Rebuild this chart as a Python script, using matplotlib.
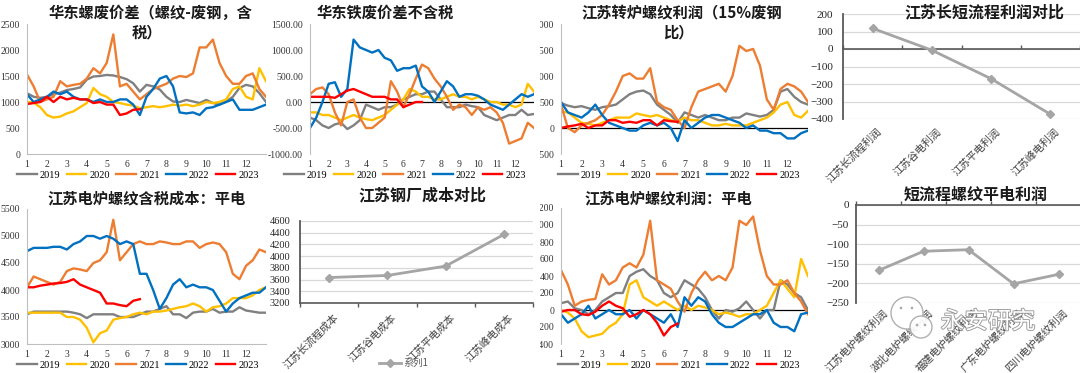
import numpy as np
import matplotlib
matplotlib.use('Agg')
import matplotlib.pyplot as plt
from matplotlib.transforms import Bbox, TransformedBbox, blended_transform_factory, offset_copy
from matplotlib.patches import Circle
import matplotlib.patheffects as pe

# ---------------- data ----------------
years = ['2019', '2020', '2021', '2022', '2023']
months = [1, 2, 3, 4, 5, 6, 7, 8, 9, 10, 11, 12]
# date grid: every 1/3 month from Jan 1 to year end
x_grid = np.linspace(1, 13, 37)

# 华东螺废价差（螺纹-废钢，含税）
p1_2019 = [1170,1100,1080,1100,1150,1180,1230,1250,1280,1430,1490,1500,1520,1510,1480,1440,1360,1200,1330,1300,1240,1100,1010,1000,1040,1010,980,1040,980,950,1010,1100,1270,1330,1300,1170,1000]
p1_2020 = [1000,990,900,750,700,720,780,820,900,980,1270,1150,1100,1000,980,950,930,880,900,920,900,920,950,930,950,920,950,1000,980,1000,1050,1250,1300,1100,1050,1650,1400]
p1_2021 = [1530,1300,1000,1050,1100,1400,1300,1330,1350,1450,1650,1550,1750,2300,1300,1350,1200,1050,1150,1250,1300,1350,1450,1500,1480,1550,2050,2050,2200,1750,1500,1350,1350,1500,1550,1250,1100]
p1_2022 = [1150,1000,1050,1100,1200,1150,1200,1100,1050,1050,1000,1050,1000,1000,1050,1050,950,750,1100,1250,1450,1500,1300,800,780,800,750,880,900,950,1000,1050,850,850,850,900,950]
p1_2023 = [960,980,1000,1100,1000,1100,1050,1080,1050,1050,980,1000,950,950,750,780,850,860]

# 华东铁废价差不含税
p2_2019 = [-300,-350,-450,-500,-430,-400,-520,-450,-350,-50,-100,-150,-100,-100,-50,50,100,150,150,200,200,50,-100,-100,-100,-50,-80,-100,-250,-300,-350,-300,-250,-250,-150,-250,-230]
p2_2020 = [-200,-200,-250,-250,-300,-350,-300,-250,-300,-330,-350,-300,-250,-150,-50,50,250,200,100,100,50,50,100,150,100,100,50,100,50,0,0,-50,-50,-100,-50,350,200]
p2_2021 = [150,250,280,150,-200,-450,0,50,-300,-500,-500,-400,-300,400,200,-100,150,450,720,650,450,300,100,-150,-50,-100,-250,-100,-150,-100,-200,-400,-800,-750,-700,-400,-500]
p2_2022 = [-500,-300,0,350,380,100,250,1200,1050,1000,950,1000,850,800,600,650,650,700,300,200,0,200,400,300,100,150,150,120,50,-50,-100,-150,-50,50,150,100,150]
p2_2023 = [100,100,100,100,80,150,220,250,200,150,100,100,100,50,50,-100,-50,0,0]

# 江苏转炉螺纹利润（15%废钢比）
p3_2019 = [480,430,400,420,380,350,400,420,450,550,650,700,720,650,450,350,250,100,300,250,200,250,200,150,150,200,200,280,250,220,250,350,700,750,600,500,450]
p3_2020 = [320,300,200,100,80,50,100,150,200,200,200,280,250,220,250,200,150,120,200,150,150,100,50,50,80,50,50,50,100,150,200,300,450,500,250,200,330]
p3_2021 = [450,0,-80,50,100,150,250,450,700,1000,1050,950,950,1150,500,400,350,150,0,400,700,750,800,850,700,1000,1580,1480,1520,1200,550,350,750,850,800,700,500]
p3_2022 = [500,300,250,200,300,450,250,100,50,0,-50,-50,50,100,50,100,0,-250,150,0,100,200,250,250,200,150,100,0,50,-50,-50,-100,-100,-200,-200,-100,-50]
p3_2023 = [0,30,50,80,0,50,50,150,150,100,120,100,150,150,50,150,130,120]

# 江苏电炉螺纹含税成本：平电
p5_2019 = [3550,3600,3600,3600,3600,3600,3600,3580,3550,3480,3550,3550,3550,3550,3500,3500,3500,3550,3600,3600,3650,3700,3550,3550,3480,3580,3600,3600,3650,3580,3600,3600,3680,3620,3600,3580,3580]
p5_2020 = [3580,3580,3580,3580,3580,3580,3500,3500,3450,3300,3030,3200,3250,3450,3480,3500,3550,3580,3550,3600,3600,3620,3650,3680,3700,3750,3700,3600,3680,3700,3750,3850,3850,3850,3900,4000,4050]
p5_2021 = [4050,4250,4200,4150,4100,4150,4350,4400,4380,4350,4500,4550,4700,5300,4550,4700,4850,4900,4850,4850,4900,4880,4850,4850,4900,4900,4780,4850,4880,4850,4700,4300,4200,4450,4550,4750,4700]
p5_2022 = [4720,4780,4780,4780,4800,4800,4750,4850,4900,5000,5000,4950,5000,4950,4850,4900,4850,4300,4300,4000,3650,3850,4100,4200,4050,4100,4050,4050,4000,3800,3600,3750,3850,3900,3950,3950,4050]
p5_2023 = [4050,4050,4080,4100,4120,4130,4150,4200,4100,4050,4000,3950,3750,3750,3720,3700,3800,3830]

# 江苏电炉螺纹利润：平电
p7_2019 = [80,100,20,0,-50,0,100,150,200,200,400,450,480,400,350,200,150,200,350,300,250,150,0,-100,0,-20,20,100,0,-100,0,0,350,300,200,150,0]
p7_2020 = [0,-30,-100,-250,-320,-300,-280,-200,-150,-50,300,350,150,100,50,100,50,0,50,0,50,30,0,-50,-30,-50,-80,-50,-50,0,50,200,350,250,150,600,400]
p7_2021 = [470,300,50,100,120,130,420,300,350,500,550,500,650,1050,350,300,250,100,-20,200,350,450,350,400,350,500,1050,1000,1100,700,400,300,300,350,200,100,-50]
p7_2022 = [-50,-150,-100,-50,50,-100,-50,0,-50,-50,0,-100,0,-50,-100,-150,-50,-200,150,50,150,100,-50,-150,-200,-200,-150,-100,-50,-50,0,-150,-200,-200,-250,-50,-30]
p7_2023 = [-20,0,0,-50,-60,-20,50,100,50,20,-80,-50,0,-50,-150,-300,-200,-160]

# 江苏长短流程利润对比
p4_cats = ['江苏长流程利润', '江苏谷电利润', '江苏平电利润', '江苏峰电利润']
p4_vals = [118, -7, -170, -373]

# 江苏钢厂成本对比
p6_cats = ['江苏长流程成本', '江苏谷电成本', '江苏平电成本', '江苏峰电成本']
p6_vals = [3635, 3670, 3830, 4370]

# 短流程螺纹平电利润
p8_cats = ['江苏电炉螺纹利润', '湖北电炉螺纹利润', '福建电炉螺纹利润', '广东电炉螺纹利润', '四川电炉螺纹利润']
p8_vals = [-167, -118, -114, -201, -177]

# ---------------- style ----------------
colors = ['#808080', '#ffc000', '#ed7d31', '#0070c0', '#ff0000']
plt.rcParams['font.family'] = ['Liberation Serif', 'Noto Sans CJK SC']
CJK = ['Noto Sans CJK SC']
W, H = 1080, 373
fig = plt.figure(figsize=(W / 100, H / 100), dpi=100)


def add_ax(x0, y0, x1, y1):
    return fig.add_axes([x0 / W, 1 - y1 / H, (x1 - x0) / W, (y1 - y0) / H])


def title(cx, cy, s, fs=11):
    fig.text(cx / W, 1 - cy / H, s, ha='center', va='center', fontsize=fs,
             fontweight='bold', family=CJK, color='#1a1a1a')


def clip_left(ax, xpix):
    cb = TransformedBbox(Bbox.from_extents(xpix / W, 0, 1, 1), fig.transFigure)
    for t in ax.get_yticklabels():
        t.set_clip_on(True)
        t.set_clip_box(cb)


def ts_panel(box, series, ylim, ystep, fmt, zero_line, legend_xy):
    ax = add_ax(*box)
    ax.patch.set_visible(False)
    handles = []
    for vals, c, lab in zip(series, colors, years):
        h, = ax.plot(x_grid[:len(vals)], vals, color=c, lw=1.7, label=lab,
                     solid_joinstyle='round')
        handles.append(h)
    ax.set_xlim(1, 13)
    ax.set_ylim(*ylim)
    yt = np.arange(ylim[0], ylim[1] + ystep / 2, ystep)
    ax.set_yticks(yt)
    ax.set_yticklabels([fmt.format(v) for v in yt])
    ax.set_xticks(months)
    ax.set_xticklabels([str(m) for m in months])
    ax.tick_params(axis='y', length=0, labelsize=7, pad=5, labelcolor='#333333')
    ax.tick_params(axis='x', length=0, labelsize=7, pad=4, labelcolor='#333333')
    for s in ['top', 'right']:
        ax.spines[s].set_visible(False)
    ax.spines['left'].set_color('#bfbfbf')
    if zero_line:
        ax.spines['bottom'].set_visible(False)
        ax.axhline(0, color='black', lw=0.9, zorder=1)
    else:
        ax.spines['bottom'].set_color('#bfbfbf')
    fig.legend(handles, years, loc='center',
               bbox_to_anchor=(legend_xy[0] / W, 1 - legend_xy[1] / H),
               ncol=5, frameon=False, fontsize=7.5, handlelength=1.9,
               handletextpad=0.3, columnspacing=0.6, borderaxespad=0,
               borderpad=0)
    return ax


def cat_panel(box, cats, vals, ylim, ystep, axis_y, tick_dir, gap, ypad, yfs, lfs):
    ax = add_ax(*box)
    ax.patch.set_visible(False)
    x = np.arange(len(cats))
    line, = ax.plot(x, vals, color='#a5a5a5', lw=2, marker='D', ms=4,
                    label='系列1', zorder=3)
    ax.set_xlim(-0.5, len(cats) - 0.5)
    ax.set_ylim(*ylim)
    ax.set_yticks(np.arange(ylim[0], ylim[1] + ystep / 2, ystep))
    ax.yaxis.grid(True, color='#d9d9d9', lw=0.9)
    ax.set_axisbelow(True)
    for s in ['top', 'right']:
        ax.spines[s].set_visible(False)
    ax.spines['left'].set_color('#595959')
    ax.spines['left'].set_linewidth(1.3)
    ax.spines['bottom'].set_position(('data', axis_y))
    ax.spines['bottom'].set_color('#595959')
    ax.spines['bottom'].set_linewidth(1.2)
    ax.set_xticks(np.arange(len(cats) + 1) - 0.5)
    ax.tick_params(axis='x', length=3, width=1, direction=tick_dir,
                   labelbottom=False, color='#595959')
    ax.tick_params(axis='y', length=0, labelsize=yfs, pad=ypad, labelcolor='#262626')
    trans = blended_transform_factory(ax.transData, ax.transAxes)
    tr = offset_copy(trans, fig=fig, x=4, y=-gap, units='dots')
    for i, c in enumerate(cats):
        ax.text(i, 0, c, transform=tr, rotation=45, ha='right', va='top',
                rotation_mode='anchor', fontsize=lfs, family=CJK, color='#404040')
    return ax, line


# ---------------- time series panels ----------------
ax1 = ts_panel((27, 24, 266, 154), [p1_2019, p1_2020, p1_2021, p1_2022, p1_2023],
               (0, 2500), 500, '{:.0f}', False, (138, 175))
title(150, 13, '华东螺废价差（螺纹-废钢，含')
title(147, 32, '税）')

ax2 = ts_panel((310, 24, 534, 154), [p2_2019, p2_2020, p2_2021, p2_2022, p2_2023],
               (-1000, 1500), 500, '{:.2f}', True, (405, 175))
title(385, 13, '华东铁废价差不含税')

ax3 = ts_panel((561, 24, 808, 154), [p3_2019, p3_2020, p3_2021, p3_2022, p3_2023],
               (-500, 2000), 500, '{:.0f}', True, (679, 175))
clip_left(ax3, 540)
title(682, 13, '江苏转炉螺纹利润（15%废钢')
title(678, 32, '比）')

ax5 = ts_panel((27, 209, 266, 344), [p5_2019, p5_2020, p5_2021, p5_2022, p5_2023],
               (3000, 5500), 500, '{:.0f}', False, (138, 365))
title(147, 198, '江苏电炉螺纹含税成本：平电')

ax7 = ts_panel((561, 208, 808, 344), [p7_2019, p7_2020, p7_2021, p7_2022, p7_2023],
               (-400, 1200), 200, '{:.0f}', True, (679, 365))
clip_left(ax7, 540)
title(668, 198, '江苏电炉螺纹利润：平电')

# ---------------- category panels ----------------
ax4, _ = cat_panel((843, 14, 1080, 119), p4_cats, p4_vals, (-400, 200), 100, 0,
                   'in', 7, 7, 8, 7.5)
title(984, 12, '江苏长短流程利润对比', fs=11.5)

ax6, l6 = cat_panel((300, 221, 533, 303), p6_cats, p6_vals, (3200, 4600), 200, 3200,
                    'out', 9, 7, 7.5, 7.5)
clip_left(ax6, 270)
title(422, 195, '江苏钢厂成本对比', fs=11.5)
leg6 = ax6.legend(handles=[l6], loc='center', bbox_to_anchor=(404 / W, 1 - 363 / H),
                  bbox_transform=fig.transFigure, frameon=False, handlelength=2.2,
                  handletextpad=0.3, prop={'family': CJK, 'size': 7})
for t in leg6.get_texts():
    t.set_color('#595959')

ax8, _ = cat_panel((856, 205, 1081, 303), p8_cats, p8_vals, (-250, 0), 50, 0,
                   'in', 5, 5, 8, 7.5)
title(976, 195, '短流程螺纹平电利润', fs=11.5)

# ---------------- watermark ----------------
for cx, cy, r in [(907, 313, 16), (921, 327, 11)]:
    fig.patches.append(Circle((cx / 100, (H - cy) / 100), r / 100,
                              transform=fig.dpi_scale_trans, facecolor='white',
                              edgecolor='#a8a8a8', lw=1.0, alpha=0.9, zorder=5))
for cx, cy in [(901, 308), (912, 308), (917, 325), (925, 325)]:
    fig.patches.append(Circle((cx / 100, (H - cy) / 100), 1.3 / 100,
                              transform=fig.dpi_scale_trans, facecolor='#a8a8a8',
                              edgecolor='none', zorder=6))
wm = fig.text(988 / W, 1 - 322 / H, '永安研究', ha='center', va='center', fontsize=17,
              family=CJK, color='white', zorder=6)
wm.set_path_effects([pe.withStroke(linewidth=1.3, foreground='#9a9a9a')])

fig.savefig('out.png', dpi=100, facecolor='white')
